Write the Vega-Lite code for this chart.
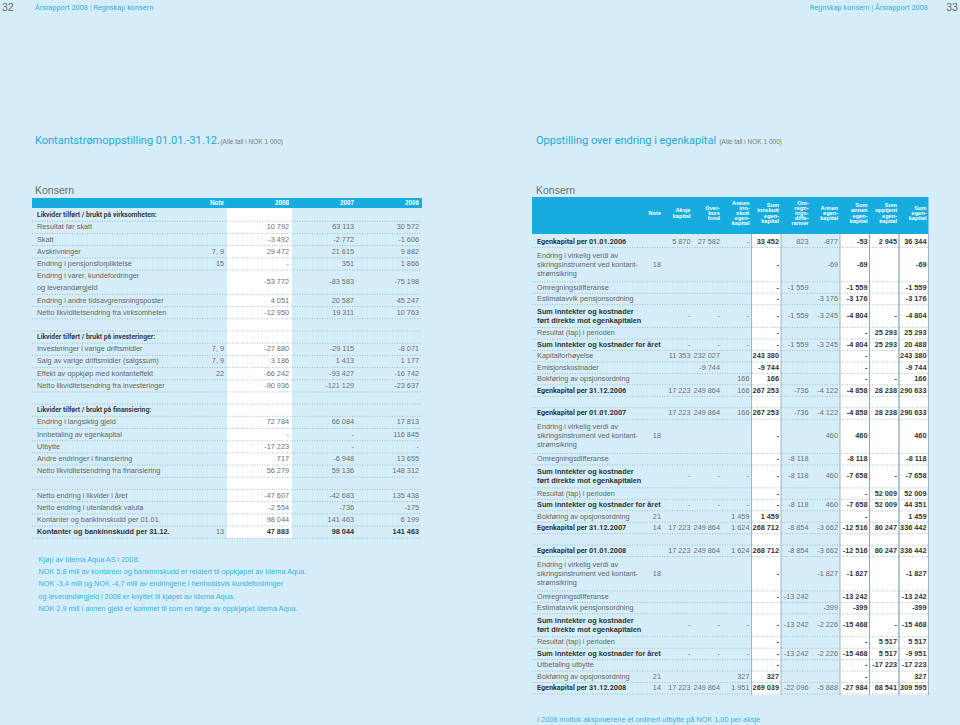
{
"$schema":"https://vega.github.io/schema/vega-lite/v6.json",
"width":960,"height":725,"padding":0,"autosize":{"type":"none"},
"background":"#d5edf8",
"config":{"view":{"stroke":null},"axis":{"disable":true},"text":{"font":"Liberation Sans"}},
"datasets":{
"page":[
{"side":"left","role":"folio","text":"32","row":-16},
{"side":"right","role":"folio","text":"33","row":-16},
{"side":"left","role":"running","text":"Årsrapport 2008 | Regnskap konsern","row":-16},
{"side":"right","role":"running","text":"Regnskap konsern | Årsrapport 2008","row":-16},
{"side":"left","role":"title","text":"Kontantstrømoppstilling 01.01.-31.12.","row":-5},
{"side":"right","role":"title","text":"Oppstilling over endring i egenkapital","row":-5},
{"side":"left","role":"unit","text":"(Alle tall i NOK 1 000)","row":-5},
{"side":"right","role":"unit","text":"(Alle tall i NOK 1 000)","row":-5},
{"side":"left","role":"heading","text":"Konsern","row":-1},
{"side":"right","role":"heading","text":"Konsern","row":-1}],
"frame":[{"table":"cash"},{"table":"equity"}],
"cashHead":[{"col":"note","text":"Note"},{"col":"y2008","text":"2008"},{"col":"y2007","text":"2007"},{"col":"y2006","text":"2006"}],
"cash":[
{"row":1,"type":"section","label":"Likvider tilført / brukt på virksomheten:"},
{"row":2,"type":"item","label":"Resultat før skatt","y2008":"10 792","y2007":"63 113","y2006":"30 572"},
{"row":3,"type":"item","label":"Skatt","y2008":"-3 492","y2007":"-2 772","y2006":"-1 606"},
{"row":4,"type":"item","label":"Avskrivninger","note":"7, 9","y2008":"29 472","y2007":"21 615","y2006":"9 882"},
{"row":5,"type":"item","label":"Endring i pensjonsforpliktelse","note":"15","y2008":"-","y2007":"351","y2006":"1 866"},
{"row":6.5,"type":"item","label":"Endring i varer, kundefordringer\nog leverandørgjeld","y2008":"-53 772","y2007":"-83 583","y2006":"-75 198"},
{"row":8,"type":"item","label":"Endring i andre tidsavgrensningsposter","y2008":"4 051","y2007":"20 587","y2006":"45 247"},
{"row":9,"type":"item","label":"Netto likviditetsendring fra virksomheten","y2008":"-12 950","y2007":"19 311","y2006":"10 763"},
{"row":11,"type":"section","label":"Likvider tilført / brukt på investeringer:"},
{"row":12,"type":"item","label":"Investeringer i varige driftsmidler","note":"7, 9","y2008":"-27 880","y2007":"-29 115","y2006":"-8 071"},
{"row":13,"type":"item","label":"Salg av varige driftsmidler (salgssum)","note":"7, 9","y2008":"3 186","y2007":"1 413","y2006":"1 177"},
{"row":14,"type":"item","label":"Effekt av oppkjøp med kontanteffekt","note":"22","y2008":"-66 242","y2007":"-93 427","y2006":"-16 742"},
{"row":15,"type":"item","label":"Netto likviditetsendring fra investeringer","y2008":"-90 936","y2007":"-121 129","y2006":"-23 637"},
{"row":17,"type":"section","label":"Likvider tilført / brukt på finansiering:"},
{"row":18,"type":"item","label":"Endring i langsiktig gjeld","y2008":"72 784","y2007":"66 084","y2006":"17 813"},
{"row":19,"type":"item","label":"Innbetaling av egenkapital","y2008":"-","y2007":"-","y2006":"116 845"},
{"row":20,"type":"item","label":"Utbytte","y2008":"-17 223","y2007":"-","y2006":"-"},
{"row":21,"type":"item","label":"Andre endringer i finansiering","y2008":"717","y2007":"-6 948","y2006":"13 655"},
{"row":22,"type":"item","label":"Netto likviditetsendring fra finansiering","y2008":"56 279","y2007":"59 136","y2006":"148 312"},
{"row":24,"type":"item","label":"Netto endring i likvider i året","y2008":"-47 607","y2007":"-42 683","y2006":"135 438"},
{"row":25,"type":"item","label":"Netto endring i utenlandsk valuta","y2008":"-2 554","y2007":"-736","y2006":"-175"},
{"row":26,"type":"item","label":"Kontanter og  bankinnskudd per 01.01.","y2008":"98 044","y2007":"141 463","y2006":"6 199"},
{"row":27,"type":"total","label":"Kontanter og  bankinnskudd per 31.12.","note":"13","y2008":"47 883","y2007":"98 044","y2006":"141 463"}],
"cashLines":[{"b":1.5},{"b":2.5},{"b":3.5},{"b":4.5},{"b":5.5},{"b":7.5},{"b":8.5},{"b":9.5},{"b":10.5},{"b":11.5},{"b":12.5},{"b":13.5},{"b":14.5},{"b":15.5},{"b":16.5},{"b":17.5},{"b":18.5},{"b":19.5},{"b":20.5},{"b":21.5},{"b":22.5},{"b":23.5},{"b":24.5},{"b":25.5},{"b":26.5},{"b":27.5}],
"cashNotes":[
{"row":29,"text":"Kjøp av Idema Aqua AS i 2008:"},
{"row":30,"text":"NOK 5,8 mill av kontanter og bankinnskudd er relatert til oppkjøpet av Idema Aqua."},
{"row":31,"text":"NOK -3,4 mill og NOK -4,7 mill av endringene i henholdsvis kundefordringer"},
{"row":32,"text":"og leverandørgjeld i 2008 er knyttet til kjøpet av Idema Aqua."},
{"row":33,"text":"NOK 2,9 mill i annen gjeld er kommet til som en følge av oppkjøpet Idema Aqua."}],
"eqHead":[
{"col":"note","text":"Note"},
{"col":"aksje","text":"Aksje\nkapital"},
{"col":"overkurs","text":"Over-\nkurs\nfond"},
{"col":"annenInn","text":"Annen\ninn-\nskutt\negen-\nkapital"},
{"col":"sumInn","text":"Sum\ninnskutt\negen-\nkapital"},
{"col":"omregn","text":"Om-\nregn-\nings-\ndiffe-\nranser"},
{"col":"annenEg","text":"Annen\negen-\nkapital"},
{"col":"sumAnnen","text":"Sum\nannen\negen-\nkapital"},
{"col":"opptjent","text":"Sum\nopptjent\negen-\nkapital"},
{"col":"sumEgen","text":"Sum\negen-\nkapital"}],
"eq":[
{"row":1,"type":"ek","label":"Egenkapital per 01.01.2006","aksje":"5 870","overkurs":"27 582","annenInn":"-","sumInn":"33 452","omregn":"823","annenEg":"-877","sumAnnen":"-53","opptjent":"2 945","sumEgen":"36 344"},
{"row":3,"type":"item","label":"Endring i virkelig verdi av\nsikringsinstrument ved kontant-\nstrømsikring","note":"18","sumInn":"-","annenEg":"-69","sumAnnen":"-69","sumEgen":"-69"},
{"row":5,"type":"item","label":"Omregningsdifferanse","sumInn":"-","omregn":"-1 559","sumAnnen":"-1 559","sumEgen":"-1 559"},
{"row":6,"type":"item","label":"Estimatavvik pensjonsordning","sumInn":"-","annenEg":"-3 176","sumAnnen":"-3 176","sumEgen":"-3 176"},
{"row":7.5,"type":"sum","label":"Sum inntekter og kostnader\nført direkte mot egenkapitalen","aksje":"-","overkurs":"-","annenInn":"-","sumInn":"-","omregn":"-1 559","annenEg":"-3 245","sumAnnen":"-4 804","opptjent":"-","sumEgen":"-4 804"},
{"row":9,"type":"item","label":"Resultat (tap) i perioden","sumInn":"-","sumAnnen":"-","opptjent":"25 293","sumEgen":"25 293"},
{"row":10,"type":"sum","label":"Sum inntekter og kostnader for året","aksje":"-","overkurs":"-","annenInn":"-","sumInn":"-","omregn":"-1 559","annenEg":"-3 245","sumAnnen":"-4 804","opptjent":"25 293","sumEgen":"20 488"},
{"row":11,"type":"item","label":"Kapitalforhøyelse","aksje":"11 353","overkurs":"232 027","sumInn":"243 380","sumAnnen":"-","sumEgen":"243 380"},
{"row":12,"type":"item","label":"Emisjonskostnader","overkurs":"-9 744","sumInn":"-9 744","sumAnnen":"-","sumEgen":"-9 744"},
{"row":13,"type":"item","label":"Bokføring av opsjonsordning","annenInn":"166","sumInn":"166","sumAnnen":"-","opptjent":"-","sumEgen":"166"},
{"row":14,"type":"ek","label":"Egenkapital per 31.12.2006","aksje":"17 223","overkurs":"249 864","annenInn":"166","sumInn":"267 253","omregn":"-736","annenEg":"-4 122","sumAnnen":"-4 858","opptjent":"28 238","sumEgen":"290 633"},
{"row":16,"type":"ek","label":"Egenkapital per 01.01.2007","aksje":"17 223","overkurs":"249 864","annenInn":"166","sumInn":"267 253","omregn":"-736","annenEg":"-4 122","sumAnnen":"-4 858","opptjent":"28 238","sumEgen":"290 633"},
{"row":18,"type":"item","label":"Endring i virkelig verdi av\nsikringsinstrument ved kontant-\nstrømsikring","note":"18","sumInn":"-","annenEg":"460","sumAnnen":"460","sumEgen":"460"},
{"row":20,"type":"item","label":"Omregningsdifferanse","sumInn":"-","omregn":"-8 118","sumAnnen":"-8 118","sumEgen":"-8 118"},
{"row":21.5,"type":"sum","label":"Sum inntekter og kostnader\nført direkte mot egenkapitalen","aksje":"-","overkurs":"-","annenInn":"-","sumInn":"-","omregn":"-8 118","annenEg":"460","sumAnnen":"-7 658","opptjent":"-","sumEgen":"-7 658"},
{"row":23,"type":"item","label":"Resultat (tap) i perioden","sumInn":"-","sumAnnen":"-","opptjent":"52 009","sumEgen":"52 009"},
{"row":24,"type":"sum","label":"Sum inntekter og kostnader for året","aksje":"-","overkurs":"-","annenInn":"-","sumInn":"-","omregn":"-8 118","annenEg":"460","sumAnnen":"-7 658","opptjent":"52 009","sumEgen":"44 351"},
{"row":25,"type":"item","label":"Bokføring av opsjonsordning","note":"21","annenInn":"1 459","sumInn":"1 459","sumAnnen":"-","sumEgen":"1 459"},
{"row":26,"type":"ek","label":"Egenkapital per 31.12.2007","note":"14","aksje":"17 223","overkurs":"249 864","annenInn":"1 624","sumInn":"268 712","omregn":"-8 854","annenEg":"-3 662","sumAnnen":"-12 516","opptjent":"80 247","sumEgen":"336 442"},
{"row":28,"type":"ek","label":"Egenkapital per 01.01.2008","aksje":"17 223","overkurs":"249 864","annenInn":"1 624","sumInn":"268 712","omregn":"-8 854","annenEg":"-3 662","sumAnnen":"-12 516","opptjent":"80 247","sumEgen":"336 442"},
{"row":30,"type":"item","label":"Endring i virkelig verdi av\nsikringsinstrument ved kontant-\nstrømsikring","note":"18","sumInn":"-","annenEg":"-1 827","sumAnnen":"-1 827","sumEgen":"-1 827"},
{"row":32,"type":"item","label":"Omregningsdifferanse","sumInn":"-","omregn":"-13 242","sumAnnen":"-13 242","sumEgen":"-13 242"},
{"row":33,"type":"item","label":"Estimatavvik pensjonsordning","annenEg":"-399","sumAnnen":"-399","sumEgen":"-399"},
{"row":34.5,"type":"sum","label":"Sum inntekter og kostnader\nført direkte mot egenkapitalen","aksje":"-","overkurs":"-","annenInn":"-","sumInn":"-","omregn":"-13 242","annenEg":"-2 226","sumAnnen":"-15 468","opptjent":"-","sumEgen":"-15 468"},
{"row":36,"type":"item","label":"Resultat (tap) i perioden","sumInn":"-","sumAnnen":"-","opptjent":"5 517","sumEgen":"5 517"},
{"row":37,"type":"sum","label":"Sum inntekter og kostnader for året","aksje":"-","overkurs":"-","annenInn":"-","sumInn":"-","omregn":"-13 242","annenEg":"-2 226","sumAnnen":"-15 468","opptjent":"5 517","sumEgen":"-9 951"},
{"row":38,"type":"item","label":"Utbetaling utbytte","sumInn":"-","sumAnnen":"-","opptjent":"-17 223","sumEgen":"-17 223"},
{"row":39,"type":"item","label":"Bokføring av opsjonsordning","note":"21","annenInn":"327","sumInn":"327","sumAnnen":"-","sumEgen":"327"},
{"row":40,"type":"ek","label":"Egenkapital per 31.12.2008","note":"14","aksje":"17 223","overkurs":"249 864","annenInn":"1 951","sumInn":"269 039","omregn":"-22 096","annenEg":"-5 888","sumAnnen":"-27 984","opptjent":"68 541","sumEgen":"309 595"}],
"eqLines":[{"b":1.5},{"b":4.5},{"b":5.5},{"b":6.5},{"b":8.5},{"b":9.5},{"b":10.5},{"b":11.5},{"b":12.5},{"b":13.5},{"b":14.5},{"b":15.5},{"b":16.5},{"b":19.5},{"b":20.5},{"b":22.5},{"b":23.5},{"b":24.5},{"b":25.5},{"b":26.5},{"b":27.5},{"b":28.5},{"b":31.5},{"b":32.5},{"b":33.5},{"b":35.5},{"b":36.5},{"b":37.5},{"b":38.5},{"b":39.5},{"b":40.5}],
"sumCols":[{"col":"sumInn"},{"col":"sumAnnen"},{"col":"opptjent"},{"col":"sumEgen"}],
"eqNotes":[{"row":43,"text":"I 2008 mottok aksjonærene et ordinert utbytte på NOK 1,00 per aksje"}]
},
"layer":[
{"layer":[
{"data":{"name":"page"},"transform":[{"filter":"datum.role=='folio' && datum.side=='left'"}],
 "mark":{"type":"text","align":"left","baseline":"middle","fontSize":10.5,"color":"#6a6a6a"},
 "encoding":{"x":{"field":"side","type":"nominal","bandPosition":0.004,"scale":{"type":"band","domain":["left","right"],"range":[0,1002],"paddingInner":0,"paddingOuter":0}},"y":{"field":"row","type":"quantitative","scale":{"domain":[0,27],"range":[203,532.13],"zero":false,"nice":false}},"text":{"field":"text"}}},
{"data":{"name":"page"},"transform":[{"filter":"datum.role=='folio' && datum.side=='right'"}],
 "mark":{"type":"text","align":"right","baseline":"middle","fontSize":10.5,"color":"#6a6a6a"},
 "encoding":{"x":{"field":"side","type":"nominal","bandPosition":0.912,"scale":{"type":"band","domain":["left","right"],"range":[0,1002],"paddingInner":0,"paddingOuter":0}},"y":{"field":"row","type":"quantitative","scale":{"domain":[0,27],"range":[203,532.13],"zero":false,"nice":false}},"text":{"field":"text"}}},
{"data":{"name":"page"},"transform":[{"filter":"datum.role=='running' && datum.side=='left'"}],
 "mark":{"type":"text","align":"left","baseline":"middle","fontSize":7.3,"font":"Roboto","color":"#2eb1dd"},
 "encoding":{"x":{"field":"side","type":"nominal","bandPosition":0.0699,"scale":{"type":"band","domain":["left","right"],"range":[0,1002],"paddingInner":0,"paddingOuter":0}},"y":{"field":"row","type":"quantitative","scale":{"domain":[0,27],"range":[203,532.13],"zero":false,"nice":false}},"text":{"field":"text"}}},
{"data":{"name":"page"},"transform":[{"filter":"datum.role=='running' && datum.side=='right'"}],
 "mark":{"type":"text","align":"right","baseline":"middle","fontSize":7.3,"font":"Roboto","color":"#2eb1dd"},
 "encoding":{"x":{"field":"side","type":"nominal","bandPosition":0.852,"scale":{"type":"band","domain":["left","right"],"range":[0,1002],"paddingInner":0,"paddingOuter":0}},"y":{"field":"row","type":"quantitative","scale":{"domain":[0,27],"range":[203,532.13],"zero":false,"nice":false}},"text":{"field":"text"}}},
{"data":{"name":"page"},"transform":[{"filter":"datum.role=='title'"}],
 "mark":{"type":"text","align":"left","baseline":"alphabetic","fontSize":11,"font":"Roboto","color":"#1fa9d9","dy":2},
 "encoding":{"x":{"field":"side","type":"nominal","bandPosition":0.0699,"scale":{"type":"band","domain":["left","right"],"range":[0,1002],"paddingInner":0,"paddingOuter":0}},"y":{"field":"row","type":"quantitative","scale":{"domain":[0,27],"range":[203,532.13],"zero":false,"nice":false}},"text":{"field":"text"}}},
{"data":{"name":"page"},"transform":[{"filter":"datum.role=='unit' && datum.side=='left'"}],
 "mark":{"type":"text","align":"left","baseline":"alphabetic","fontSize":6.5,"color":"#7a7a7a","dy":2},
 "encoding":{"x":{"field":"side","type":"nominal","bandPosition":0.44,"scale":{"type":"band","domain":["left","right"],"range":[0,1002],"paddingInner":0,"paddingOuter":0}},"y":{"field":"row","type":"quantitative","scale":{"domain":[0,27],"range":[203,532.13],"zero":false,"nice":false}},"text":{"field":"text"}}},
{"data":{"name":"page"},"transform":[{"filter":"datum.role=='unit' && datum.side=='right'"}],
 "mark":{"type":"text","align":"left","baseline":"alphabetic","fontSize":6.5,"color":"#7a7a7a","dy":2},
 "encoding":{"x":{"field":"side","type":"nominal","bandPosition":0.436,"scale":{"type":"band","domain":["left","right"],"range":[0,1002],"paddingInner":0,"paddingOuter":0}},"y":{"field":"row","type":"quantitative","scale":{"domain":[0,27],"range":[203,532.13],"zero":false,"nice":false}},"text":{"field":"text"}}},
{"data":{"name":"page"},"transform":[{"filter":"datum.role=='heading'"}],
 "mark":{"type":"text","align":"left","baseline":"middle","fontSize":10.5,"color":"#6e6e6e"},
 "encoding":{"x":{"field":"side","type":"nominal","bandPosition":0.0699,"scale":{"type":"band","domain":["left","right"],"range":[0,1002],"paddingInner":0,"paddingOuter":0}},"y":{"field":"row","type":"quantitative","scale":{"domain":[0,27],"range":[203,532.13],"zero":false,"nice":false}},"text":{"field":"text"}}}
]},
{"layer":[
{"data":{"name":"frame"},"transform":[{"filter":"datum.table=='cash'"}],
 "mark":{"type":"rect","color":"#17ace0"},
 "encoding":{"x":{"datum":"L1","type":"nominal","bandPosition":0,"scale":{"type":"band","domain":["L1","L2","note","y2008","y2007","y2006"],"range":[32,422],"paddingInner":0,"paddingOuter":0}},"x2":{"datum":"y2006","bandPosition":1},"y":{"datum":-0.4,"type":"quantitative","scale":{"domain":[0,27],"range":[203,532.13],"zero":false,"nice":false}},"y2":{"datum":0.4}}},
{"data":{"name":"frame"},"transform":[{"filter":"datum.table=='cash'"}],
 "mark":{"type":"rect","color":"#ffffff"},
 "encoding":{"x":{"datum":"y2008","type":"nominal","scale":{"type":"band","domain":["L1","L2","note","y2008","y2007","y2006"],"range":[32,422],"paddingInner":0,"paddingOuter":0}},"y":{"datum":0.4,"type":"quantitative","scale":{"domain":[0,27],"range":[203,532.13],"zero":false,"nice":false}},"y2":{"datum":27.5}}},
{"data":{"name":"cashLines"},
 "mark":{"type":"rule","color":"#8fb1c2","strokeWidth":0.8,"strokeDash":[1,1.5]},
 "encoding":{"x":{"datum":"L1","type":"nominal","bandPosition":0,"scale":{"type":"band","domain":["L1","L2","note","y2008","y2007","y2006"],"range":[32,422],"paddingInner":0,"paddingOuter":0}},"x2":{"datum":"y2006","bandPosition":1},"y":{"field":"b","type":"quantitative","scale":{"domain":[0,27],"range":[203,532.13],"zero":false,"nice":false}}}},
{"data":{"name":"cashHead"},
 "mark":{"type":"text","align":"right","baseline":"middle","fontSize":6.3,"fontWeight":"bold","color":"#ffffff"},
 "encoding":{"x":{"field":"col","type":"nominal","bandPosition":0.954,"scale":{"type":"band","domain":["L1","L2","note","y2008","y2007","y2006"],"range":[32,422],"paddingInner":0,"paddingOuter":0}},"y":{"datum":0,"type":"quantitative","scale":{"domain":[0,27],"range":[203,532.13],"zero":false,"nice":false}},"text":{"field":"text"}}},
{"data":{"name":"cash"},"transform":[{"filter":"datum.type=='item' && indexof(datum.label, '\\n') < 0"}],
 "mark":{"type":"text","align":"left","baseline":"middle","fontSize":7.3,"color":"#666666"},
 "encoding":{"x":{"datum":"L1","type":"nominal","bandPosition":0.077,"scale":{"type":"band","domain":["L1","L2","note","y2008","y2007","y2006"],"range":[32,422],"paddingInner":0,"paddingOuter":0}},"y":{"field":"row","type":"quantitative","scale":{"domain":[0,27],"range":[203,532.13],"zero":false,"nice":false}},"text":{"field":"label"}}},
{"data":{"name":"cash"},"transform":[{"filter":"datum.type=='item' && indexof(datum.label, '\\n') >= 0"}],
 "mark":{"type":"text","align":"left","baseline":"middle","fontSize":7.3,"color":"#666666","lineBreak":"\n","lineHeight":12,"dy":-6},
 "encoding":{"x":{"datum":"L1","type":"nominal","bandPosition":0.077,"scale":{"type":"band","domain":["L1","L2","note","y2008","y2007","y2006"],"range":[32,422],"paddingInner":0,"paddingOuter":0}},"y":{"field":"row","type":"quantitative","scale":{"domain":[0,27],"range":[203,532.13],"zero":false,"nice":false}},"text":{"field":"label"}}},
{"data":{"name":"cash"},"transform":[{"filter":"datum.type=='section'"}],
 "mark":{"type":"text","align":"left","baseline":"middle","fontSize":6.8,"fontWeight":"bold","font":"Roboto","color":"#3a3a3a"},
 "encoding":{"x":{"datum":"L1","type":"nominal","bandPosition":0.077,"scale":{"type":"band","domain":["L1","L2","note","y2008","y2007","y2006"],"range":[32,422],"paddingInner":0,"paddingOuter":0}},"y":{"field":"row","type":"quantitative","scale":{"domain":[0,27],"range":[203,532.13],"zero":false,"nice":false}},"text":{"field":"label"}}},
{"data":{"name":"cash"},"transform":[{"filter":"datum.type=='total'"}],
 "mark":{"type":"text","align":"left","baseline":"middle","fontSize":7.3,"fontWeight":"bold","color":"#333333"},
 "encoding":{"x":{"datum":"L1","type":"nominal","bandPosition":0.077,"scale":{"type":"band","domain":["L1","L2","note","y2008","y2007","y2006"],"range":[32,422],"paddingInner":0,"paddingOuter":0}},"y":{"field":"row","type":"quantitative","scale":{"domain":[0,27],"range":[203,532.13],"zero":false,"nice":false}},"text":{"field":"label"}}},
{"data":{"name":"cash"},"transform":[{"fold":["note","y2008","y2007","y2006"],"as":["col","value"]},{"filter":"isValid(datum.value) && datum.value !== '' && (datum.type != 'total' || datum.col == 'note')"}],
 "mark":{"type":"text","align":"right","baseline":"middle","fontSize":7.3,"color":"#6e6e6e"},
 "encoding":{"x":{"field":"col","type":"nominal","bandPosition":0.954,"scale":{"type":"band","domain":["L1","L2","note","y2008","y2007","y2006"],"range":[32,422],"paddingInner":0,"paddingOuter":0}},"y":{"field":"row","type":"quantitative","scale":{"domain":[0,27],"range":[203,532.13],"zero":false,"nice":false}},"text":{"field":"value"}}},
{"data":{"name":"cash"},"transform":[{"fold":["note","y2008","y2007","y2006"],"as":["col","value"]},{"filter":"isValid(datum.value) && datum.value !== '' && datum.type == 'total' && datum.col != 'note'"}],
 "mark":{"type":"text","align":"right","baseline":"middle","fontSize":7.3,"fontWeight":"bold","color":"#333333"},
 "encoding":{"x":{"field":"col","type":"nominal","bandPosition":0.954,"scale":{"type":"band","domain":["L1","L2","note","y2008","y2007","y2006"],"range":[32,422],"paddingInner":0,"paddingOuter":0}},"y":{"field":"row","type":"quantitative","scale":{"domain":[0,27],"range":[203,532.13],"zero":false,"nice":false}},"text":{"field":"value"}}},
{"data":{"name":"cashNotes"},
 "mark":{"type":"text","align":"left","baseline":"middle","fontSize":7.3,"color":"#35b4df","dy":3.5},
 "encoding":{"x":{"datum":"L1","type":"nominal","bandPosition":0.1,"scale":{"type":"band","domain":["L1","L2","note","y2008","y2007","y2006"],"range":[32,422],"paddingInner":0,"paddingOuter":0}},"y":{"field":"row","type":"quantitative","scale":{"domain":[0,27],"range":[203,532.13],"zero":false,"nice":false}},"text":{"field":"text"}}}
]},
{"layer":[
{"data":{"name":"frame"},"transform":[{"filter":"datum.table=='equity'"}],
 "mark":{"type":"rect","color":"#17ace0"},
 "encoding":{"x":{"datum":"L0","type":"nominal","bandPosition":0.56,"scale":{"type":"band","domain":["L0","L1","L2","L3","note","aksje","overkurs","annenInn","sumInn","omregn","annenEg","sumAnnen","opptjent","sumEgen"],"range":[515.5,928.5],"paddingInner":0,"paddingOuter":0}},"x2":{"datum":"sumEgen","bandPosition":1},"y":{"datum":-2.9,"type":"quantitative","scale":{"domain":[1,40],"range":[241.7,688.25],"zero":false,"nice":false}},"y2":{"datum":0.33}}},
{"data":{"name":"sumCols"},
 "mark":{"type":"rect","color":"#ffffff"},
 "encoding":{"x":{"field":"col","type":"nominal","scale":{"type":"band","domain":["L0","L1","L2","L3","note","aksje","overkurs","annenInn","sumInn","omregn","annenEg","sumAnnen","opptjent","sumEgen"],"range":[515.5,928.5],"paddingInner":0,"paddingOuter":0}},"y":{"datum":0.33,"type":"quantitative","scale":{"domain":[1,40],"range":[241.7,688.25],"zero":false,"nice":false}},"y2":{"datum":40.6}}},
{"data":{"name":"eqLines"},
 "mark":{"type":"rule","color":"#8fb1c2","strokeWidth":0.8,"strokeDash":[1,1.5]},
 "encoding":{"x":{"datum":"L0","type":"nominal","bandPosition":0.56,"scale":{"type":"band","domain":["L0","L1","L2","L3","note","aksje","overkurs","annenInn","sumInn","omregn","annenEg","sumAnnen","opptjent","sumEgen"],"range":[515.5,928.5],"paddingInner":0,"paddingOuter":0}},"x2":{"datum":"sumEgen","bandPosition":1},"y":{"field":"b","type":"quantitative","scale":{"domain":[1,40],"range":[241.7,688.25],"zero":false,"nice":false}}}},
{"data":{"name":"sumCols"},
 "mark":{"type":"rule","color":"#8aa6b6","strokeWidth":0.8},
 "encoding":{"x":{"field":"col","type":"nominal","bandPosition":0,"scale":{"type":"band","domain":["L0","L1","L2","L3","note","aksje","overkurs","annenInn","sumInn","omregn","annenEg","sumAnnen","opptjent","sumEgen"],"range":[515.5,928.5],"paddingInner":0,"paddingOuter":0}},"y":{"datum":0.33,"type":"quantitative","scale":{"domain":[1,40],"range":[241.7,688.25],"zero":false,"nice":false}},"y2":{"datum":40.6}}},
{"data":{"name":"sumCols"},
 "mark":{"type":"rule","color":"#8aa6b6","strokeWidth":0.8},
 "encoding":{"x":{"field":"col","type":"nominal","bandPosition":1,"scale":{"type":"band","domain":["L0","L1","L2","L3","note","aksje","overkurs","annenInn","sumInn","omregn","annenEg","sumAnnen","opptjent","sumEgen"],"range":[515.5,928.5],"paddingInner":0,"paddingOuter":0}},"y":{"datum":0.33,"type":"quantitative","scale":{"domain":[1,40],"range":[241.7,688.25],"zero":false,"nice":false}},"y2":{"datum":40.6}}},
{"data":{"name":"eqHead"},"transform":[{"filter":"length(split(datum.text, '\\n')) == 1"}],
 "mark":{"type":"text","align":"right","baseline":"middle","fontSize":5.6,"fontWeight":"bold","color":"#ffffff","lineBreak":"\n","lineHeight":5.2},
 "encoding":{"x":{"field":"col","type":"nominal","bandPosition":0.932,"scale":{"type":"band","domain":["L0","L1","L2","L3","note","aksje","overkurs","annenInn","sumInn","omregn","annenEg","sumAnnen","opptjent","sumEgen"],"range":[515.5,928.5],"paddingInner":0,"paddingOuter":0}},"y":{"datum":-1.5,"type":"quantitative","scale":{"domain":[1,40],"range":[241.7,688.25],"zero":false,"nice":false}},"text":{"field":"text"}}},
{"data":{"name":"eqHead"},"transform":[{"filter":"length(split(datum.text, '\\n')) == 2"}],
 "mark":{"type":"text","align":"right","baseline":"middle","fontSize":5.6,"fontWeight":"bold","color":"#ffffff","lineBreak":"\n","lineHeight":5.2,"dy":-2.6},
 "encoding":{"x":{"field":"col","type":"nominal","bandPosition":0.932,"scale":{"type":"band","domain":["L0","L1","L2","L3","note","aksje","overkurs","annenInn","sumInn","omregn","annenEg","sumAnnen","opptjent","sumEgen"],"range":[515.5,928.5],"paddingInner":0,"paddingOuter":0}},"y":{"datum":-1.5,"type":"quantitative","scale":{"domain":[1,40],"range":[241.7,688.25],"zero":false,"nice":false}},"text":{"field":"text"}}},
{"data":{"name":"eqHead"},"transform":[{"filter":"length(split(datum.text, '\\n')) == 3"}],
 "mark":{"type":"text","align":"right","baseline":"middle","fontSize":5.6,"fontWeight":"bold","color":"#ffffff","lineBreak":"\n","lineHeight":5.2,"dy":-5.2},
 "encoding":{"x":{"field":"col","type":"nominal","bandPosition":0.932,"scale":{"type":"band","domain":["L0","L1","L2","L3","note","aksje","overkurs","annenInn","sumInn","omregn","annenEg","sumAnnen","opptjent","sumEgen"],"range":[515.5,928.5],"paddingInner":0,"paddingOuter":0}},"y":{"datum":-1.5,"type":"quantitative","scale":{"domain":[1,40],"range":[241.7,688.25],"zero":false,"nice":false}},"text":{"field":"text"}}},
{"data":{"name":"eqHead"},"transform":[{"filter":"length(split(datum.text, '\\n')) == 4"}],
 "mark":{"type":"text","align":"right","baseline":"middle","fontSize":5.6,"fontWeight":"bold","color":"#ffffff","lineBreak":"\n","lineHeight":5.2,"dy":-7.8},
 "encoding":{"x":{"field":"col","type":"nominal","bandPosition":0.932,"scale":{"type":"band","domain":["L0","L1","L2","L3","note","aksje","overkurs","annenInn","sumInn","omregn","annenEg","sumAnnen","opptjent","sumEgen"],"range":[515.5,928.5],"paddingInner":0,"paddingOuter":0}},"y":{"datum":-1.5,"type":"quantitative","scale":{"domain":[1,40],"range":[241.7,688.25],"zero":false,"nice":false}},"text":{"field":"text"}}},
{"data":{"name":"eqHead"},"transform":[{"filter":"length(split(datum.text, '\\n')) == 5"}],
 "mark":{"type":"text","align":"right","baseline":"middle","fontSize":5.6,"fontWeight":"bold","color":"#ffffff","lineBreak":"\n","lineHeight":5.2,"dy":-10.4},
 "encoding":{"x":{"field":"col","type":"nominal","bandPosition":0.932,"scale":{"type":"band","domain":["L0","L1","L2","L3","note","aksje","overkurs","annenInn","sumInn","omregn","annenEg","sumAnnen","opptjent","sumEgen"],"range":[515.5,928.5],"paddingInner":0,"paddingOuter":0}},"y":{"datum":-1.5,"type":"quantitative","scale":{"domain":[1,40],"range":[241.7,688.25],"zero":false,"nice":false}},"text":{"field":"text"}}},
{"data":{"name":"eq"},"transform":[{"filter":"datum.type=='item' && indexof(datum.label, '\\n') < 0"}],
 "mark":{"type":"text","align":"left","baseline":"middle","fontSize":7.3,"color":"#666666"},
 "encoding":{"x":{"datum":"L0","type":"nominal","bandPosition":0.73,"scale":{"type":"band","domain":["L0","L1","L2","L3","note","aksje","overkurs","annenInn","sumInn","omregn","annenEg","sumAnnen","opptjent","sumEgen"],"range":[515.5,928.5],"paddingInner":0,"paddingOuter":0}},"y":{"field":"row","type":"quantitative","scale":{"domain":[1,40],"range":[241.7,688.25],"zero":false,"nice":false}},"text":{"field":"label"}}},
{"data":{"name":"eq"},"transform":[{"filter":"datum.type=='item' && indexof(datum.label, '\\n') >= 0"}],
 "mark":{"type":"text","align":"left","baseline":"middle","fontSize":7.3,"color":"#666666","lineBreak":"\n","lineHeight":9,"dy":-9},
 "encoding":{"x":{"datum":"L0","type":"nominal","bandPosition":0.73,"scale":{"type":"band","domain":["L0","L1","L2","L3","note","aksje","overkurs","annenInn","sumInn","omregn","annenEg","sumAnnen","opptjent","sumEgen"],"range":[515.5,928.5],"paddingInner":0,"paddingOuter":0}},"y":{"field":"row","type":"quantitative","scale":{"domain":[1,40],"range":[241.7,688.25],"zero":false,"nice":false}},"text":{"field":"label"}}},
{"data":{"name":"eq"},"transform":[{"filter":"datum.type=='sum' && indexof(datum.label, '\\n') < 0"}],
 "mark":{"type":"text","align":"left","baseline":"middle","fontSize":7.3,"fontWeight":"bold","color":"#333333"},
 "encoding":{"x":{"datum":"L0","type":"nominal","bandPosition":0.73,"scale":{"type":"band","domain":["L0","L1","L2","L3","note","aksje","overkurs","annenInn","sumInn","omregn","annenEg","sumAnnen","opptjent","sumEgen"],"range":[515.5,928.5],"paddingInner":0,"paddingOuter":0}},"y":{"field":"row","type":"quantitative","scale":{"domain":[1,40],"range":[241.7,688.25],"zero":false,"nice":false}},"text":{"field":"label"}}},
{"data":{"name":"eq"},"transform":[{"filter":"datum.type=='sum' && indexof(datum.label, '\\n') >= 0"}],
 "mark":{"type":"text","align":"left","baseline":"middle","fontSize":7.3,"fontWeight":"bold","color":"#333333","lineBreak":"\n","lineHeight":9,"dy":-4.5},
 "encoding":{"x":{"datum":"L0","type":"nominal","bandPosition":0.73,"scale":{"type":"band","domain":["L0","L1","L2","L3","note","aksje","overkurs","annenInn","sumInn","omregn","annenEg","sumAnnen","opptjent","sumEgen"],"range":[515.5,928.5],"paddingInner":0,"paddingOuter":0}},"y":{"field":"row","type":"quantitative","scale":{"domain":[1,40],"range":[241.7,688.25],"zero":false,"nice":false}},"text":{"field":"label"}}},
{"data":{"name":"eq"},"transform":[{"filter":"datum.type=='ek'"}],
 "mark":{"type":"text","align":"left","baseline":"middle","fontSize":7.2,"fontWeight":"bold","font":"Roboto","color":"#333333"},
 "encoding":{"x":{"datum":"L0","type":"nominal","bandPosition":0.73,"scale":{"type":"band","domain":["L0","L1","L2","L3","note","aksje","overkurs","annenInn","sumInn","omregn","annenEg","sumAnnen","opptjent","sumEgen"],"range":[515.5,928.5],"paddingInner":0,"paddingOuter":0}},"y":{"field":"row","type":"quantitative","scale":{"domain":[1,40],"range":[241.7,688.25],"zero":false,"nice":false}},"text":{"field":"label"}}},
{"data":{"name":"eq"},"transform":[{"fold":["note","aksje","overkurs","annenInn","sumInn","omregn","annenEg","sumAnnen","opptjent","sumEgen"],"as":["col","value"]},{"filter":"isValid(datum.value) && datum.value !== '' && indexof(['sumInn','sumAnnen','opptjent','sumEgen'], datum.col) < 0"}],
 "mark":{"type":"text","align":"right","baseline":"middle","fontSize":7.3,"color":"#6e6e6e"},
 "encoding":{"x":{"field":"col","type":"nominal","bandPosition":0.932,"scale":{"type":"band","domain":["L0","L1","L2","L3","note","aksje","overkurs","annenInn","sumInn","omregn","annenEg","sumAnnen","opptjent","sumEgen"],"range":[515.5,928.5],"paddingInner":0,"paddingOuter":0}},"y":{"field":"row","type":"quantitative","scale":{"domain":[1,40],"range":[241.7,688.25],"zero":false,"nice":false}},"text":{"field":"value"}}},
{"data":{"name":"eq"},"transform":[{"fold":["note","aksje","overkurs","annenInn","sumInn","omregn","annenEg","sumAnnen","opptjent","sumEgen"],"as":["col","value"]},{"filter":"isValid(datum.value) && datum.value !== '' && indexof(['sumInn','sumAnnen','opptjent','sumEgen'], datum.col) >= 0"}],
 "mark":{"type":"text","align":"right","baseline":"middle","fontSize":7.3,"fontWeight":"bold","color":"#333333"},
 "encoding":{"x":{"field":"col","type":"nominal","bandPosition":0.932,"scale":{"type":"band","domain":["L0","L1","L2","L3","note","aksje","overkurs","annenInn","sumInn","omregn","annenEg","sumAnnen","opptjent","sumEgen"],"range":[515.5,928.5],"paddingInner":0,"paddingOuter":0}},"y":{"field":"row","type":"quantitative","scale":{"domain":[1,40],"range":[241.7,688.25],"zero":false,"nice":false}},"text":{"field":"value"}}},
{"data":{"name":"eqNotes"},
 "mark":{"type":"text","align":"left","baseline":"middle","fontSize":7.3,"color":"#35b4df","dy":-2.6},
 "encoding":{"x":{"datum":"L0","type":"nominal","bandPosition":0.73,"scale":{"type":"band","domain":["L0","L1","L2","L3","note","aksje","overkurs","annenInn","sumInn","omregn","annenEg","sumAnnen","opptjent","sumEgen"],"range":[515.5,928.5],"paddingInner":0,"paddingOuter":0}},"y":{"field":"row","type":"quantitative","scale":{"domain":[1,40],"range":[241.7,688.25],"zero":false,"nice":false}},"text":{"field":"text"}}}
]}
],
"resolve":{"scale":{"x":"independent","y":"independent"}}
}
